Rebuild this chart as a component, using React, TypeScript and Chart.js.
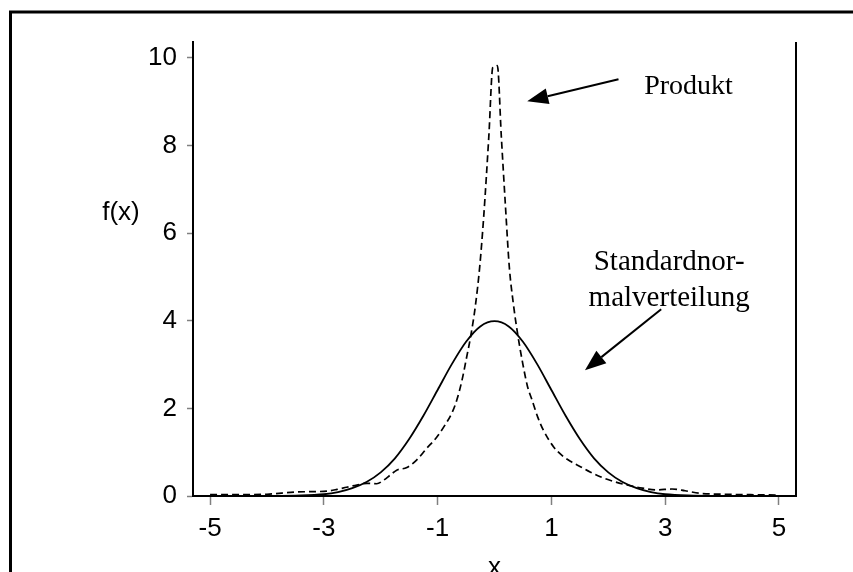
import React, { useEffect, useRef } from "react";
import { Chart, registerables } from "chart.js";

Chart.register(...registerables);

// Standard normal density (scaled)
const solidX = [-5, -4.5, -4, -3.5, -3, -2.75, -2.5, -2.25, -2, -1.75, -1.5, -1.25, -1, -0.75, -0.5, -0.25, 0, 0.25, 0.5, 0.75, 1, 1.25, 1.5, 1.75, 2, 2.25, 2.5, 2.75, 3, 3.5, 4, 4.5, 5];
const solidY = [0, 0, 0, 0.01, 0.04, 0.09, 0.18, 0.32, 0.54, 0.86, 1.3, 1.83, 2.42, 3.01, 3.52, 3.87, 3.99, 3.87, 3.52, 3.01, 2.42, 1.83, 1.3, 0.86, 0.54, 0.32, 0.18, 0.09, 0.04, 0.01, 0, 0, 0];

// Product distribution (dashed)
const dashX = [-5, -4.5, -4, -3.5, -3.2, -2.95, -2.77, -2.6, -2.42, -2.24, -2.07, -1.95, -1.84, -1.72, -1.54, -1.37, -1.19, -1.01, -0.88, -0.75, -0.66, -0.57, -0.5, -0.415, -0.34, -0.26, -0.19, -0.1, -0.03, 0.01, 0.05, 0.12, 0.19, 0.26, 0.33, 0.41, 0.5, 0.58, 0.66, 0.76, 0.86, 1.04, 1.21, 1.35, 1.51, 1.68, 1.86, 2.1, 2.33, 2.6, 2.85, 3.12, 3.35, 3.62, 4, 4.5, 5];
const dashY = [0.03, 0.03, 0.04, 0.09, 0.1, 0.11, 0.15, 0.2, 0.25, 0.29, 0.28, 0.36, 0.47, 0.59, 0.65, 0.82, 1.09, 1.35, 1.6, 1.89, 2.2, 2.65, 3.1, 3.67, 4.3, 5.23, 6.37, 8.2, 9.78, 9.8, 9.82, 8.2, 6.67, 5.23, 4.4, 3.67, 3.0, 2.5, 2.19, 1.8, 1.5, 1.12, 0.9, 0.78, 0.67, 0.55, 0.44, 0.33, 0.25, 0.18, 0.14, 0.16, 0.12, 0.06, 0.04, 0.03, 0.02];

const xTicks = [-5, -3, -1, 1, 3, 5];
const yTicks = [0, 2, 4, 6, 8, 10];

const SANS = "'Liberation Sans', Arial, sans-serif";
const SERIF = "'Liberation Serif', 'Times New Roman', serif";

function drawArrow(ctx: CanvasRenderingContext2D, x1: number, y1: number, x2: number, y2: number) {
  const ang = Math.atan2(y2 - y1, x2 - x1);
  const hl = 21;
  const hw = 8;
  const bx = x2 - hl * Math.cos(ang);
  const by = y2 - hl * Math.sin(ang);
  ctx.save();
  ctx.strokeStyle = "#000";
  ctx.fillStyle = "#000";
  ctx.lineWidth = 2;
  ctx.beginPath();
  ctx.moveTo(x1, y1);
  ctx.lineTo(bx, by);
  ctx.stroke();
  ctx.beginPath();
  ctx.moveTo(x2, y2);
  ctx.lineTo(bx + hw * Math.sin(ang), by - hw * Math.cos(ang));
  ctx.lineTo(bx - hw * Math.sin(ang), by + hw * Math.cos(ang));
  ctx.closePath();
  ctx.fill();
  ctx.restore();
}

const decorPlugin = {
  id: "decor",
  afterDraw(chart: any) {
    const ctx: CanvasRenderingContext2D = chart.ctx;
    const xs = chart.scales.x;
    const ys = chart.scales.y;
    const ca = chart.chartArea;
    const px = (v: number) => xs.getPixelForValue(v);
    const py = (v: number) => ys.getPixelForValue(v);
    ctx.save();
    // outer frame
    ctx.strokeStyle = "#000";
    ctx.lineWidth = 3;
    ctx.beginPath();
    ctx.moveTo(10.5, 600);
    ctx.lineTo(10.5, 12);
    ctx.lineTo(900, 12);
    ctx.stroke();
    // right border of plot
    ctx.lineWidth = 2;
    ctx.beginPath();
    ctx.moveTo(ca.right, ca.top);
    ctx.lineTo(ca.right, ca.bottom + 1);
    ctx.stroke();
    // axis titles
    ctx.fillStyle = "#000";
    ctx.font = `26px ${SANS}`;
    ctx.textAlign = "center";
    ctx.textBaseline = "middle";
    ctx.fillText("f(x)", 121, 213);
    ctx.textBaseline = "alphabetic";
    ctx.fillText("x", px(0), 575);
    // annotations
    ctx.font = `28px ${SERIF}`;
    ctx.textBaseline = "middle";
    ctx.fillText("Produkt", px(3.41), py(9.33));
    ctx.font = `29px ${SERIF}`;
    ctx.fillText("Standardnor-", px(3.07), py(5.34));
    ctx.fillText("malverteilung", px(3.07), py(4.5));
    drawArrow(ctx, px(2.18), py(9.51), px(0.575), py(9.01));
    drawArrow(ctx, px(2.93), py(4.26), px(1.59), py(2.87));
    ctx.restore();
  },
};

export default function App() {
  const ref = useRef<HTMLCanvasElement | null>(null);
  useEffect(() => {
    if (!ref.current) return;
    const chart = new Chart(ref.current, {
      type: "line",
      data: {
        datasets: [
          {
            label: "Standardnormalverteilung",
            data: solidX.map((x, i) => ({ x, y: solidY[i] })),
            borderColor: "#000",
            borderWidth: 1.8,
            pointRadius: 0,
            cubicInterpolationMode: "monotone",
            fill: false,
          },
          {
            label: "Produkt",
            data: dashX.map((x, i) => ({ x, y: dashY[i] })),
            borderColor: "#000",
            borderWidth: 1.7,
            borderDash: [7, 4],
            pointRadius: 0,
            cubicInterpolationMode: "monotone",
            fill: false,
          },
        ],
      },
      options: {
        responsive: false,
        animation: false,
        layout: { padding: { left: 0, top: 42, right: 57, bottom: 0 } },
        plugins: { legend: { display: false }, tooltip: { enabled: false } },
        scales: {
          x: {
            type: "linear",
            min: -5.3,
            max: 5.3,
            afterFit: (s: any) => {
              s.height = 76;
            },
            afterBuildTicks: (s: any) => {
              s.ticks = xTicks.map((v) => ({ value: v }));
            },
            grid: { display: true, drawOnChartArea: false, tickLength: 9, tickColor: "#808080", tickWidth: 1.5 },
            border: { display: true, color: "#000", width: 2 },
            ticks: { color: "#000", font: { family: SANS, size: 26 }, padding: 8, maxRotation: 0, autoSkip: false },
          },
          y: {
            type: "linear",
            min: 0,
            max: 10.36,
            afterFit: (s: any) => {
              s.width = 193;
            },
            afterBuildTicks: (s: any) => {
              s.ticks = yTicks.map((v) => ({ value: v }));
            },
            grid: { display: true, drawOnChartArea: false, tickLength: 6, tickColor: "#808080", tickWidth: 1.5 },
            border: { display: true, color: "#000", width: 2 },
            ticks: { color: "#000", font: { family: SANS, size: 26 }, padding: 10, autoSkip: false },
          },
        },
      },
      plugins: [decorPlugin],
    });
    return () => chart.destroy();
  }, []);
  return (
    <div style={{ position: "fixed", left: 0, top: 0, width: 853, height: 572, background: "#fff" }}>
      <canvas ref={ref} width={853} height={572} />
    </div>
  );
}
